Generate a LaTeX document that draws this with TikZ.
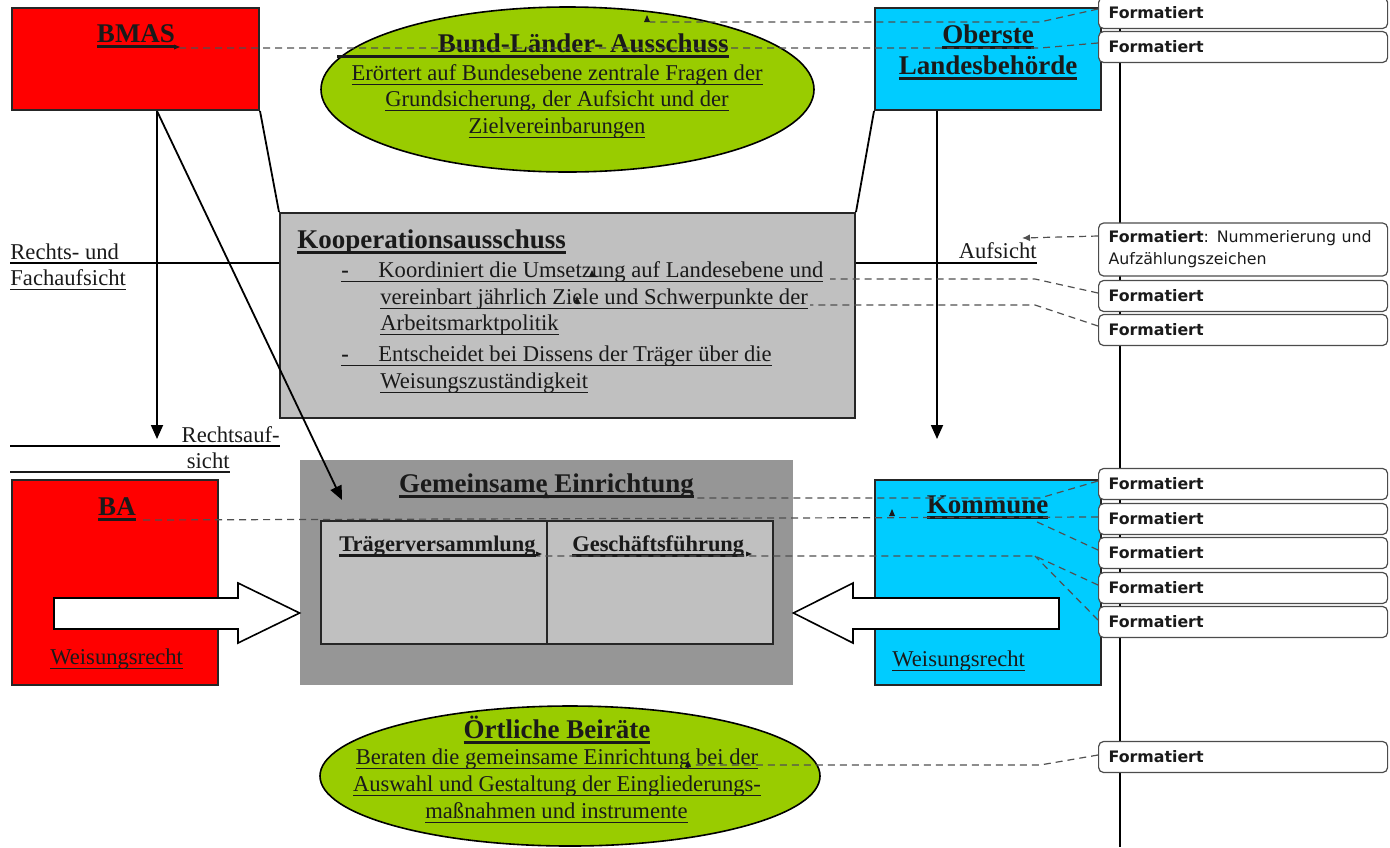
\documentclass[tikz,border=0pt]{standalone}
\usepackage{fontspec}
\setmainfont{Liberation Serif}
\newfontfamily\fmfont{DejaVu Sans}
\usetikzlibrary{arrows.meta,shapes.geometric}
\definecolor{rd}{HTML}{FF0000}
\definecolor{cy}{HTML}{00CCFF}
\definecolor{gn}{HTML}{99CC00}
\definecolor{lg}{HTML}{C0C0C0}
\definecolor{dg}{HTML}{969696}
\definecolor{tx}{HTML}{1A1A1A}
\definecolor{dl}{HTML}{505050}
\newsavebox\ulbox
\newcommand\uline[1]{\sbox\ulbox{#1}\leavevmode\rlap{\usebox\ulbox}\rule[-2.6pt]{\wd\ulbox}{0.7pt}}
\newcommand\tul[1]{\sbox\ulbox{#1}\leavevmode\rlap{\usebox\ulbox}\rule[-3.2pt]{\wd\ulbox}{1.5pt}}
\newcommand\upmark[1]{\fill[tx] (#1) ++(-3,2) -- ++(6,0) -- ++(-3,-7) -- cycle;}
\newcommand\rmark[1]{\fill[tx] (#1) ++(-5,-2.5) -- ++(0,5) -- ++(6,-2.5) -- cycle;}
\begin{document}
\begin{tikzpicture}[x=0.5pt,y=-0.5pt,
  box/.style={draw=black!85, line width=1pt, inner sep=0pt},
  title/.style={font=\fontsize{13.5}{15}\selectfont\bfseries, text=tx, inner sep=0pt, anchor=base},
  stitle/.style={font=\fontsize{11.2}{13}\selectfont\bfseries, text=tx, inner sep=0pt, anchor=base west},
  body/.style={font=\fontsize{11.3}{13}\selectfont, text=tx, inner sep=0pt, anchor=base},
  conn/.style={draw=black, line width=0.9pt},
  thinul/.style={draw=tx, line width=0.7pt},
  arr/.style={conn, -{Triangle[width=6pt,length=7pt]}},
  dsh/.style={draw=dl, line width=0.6pt, dash pattern=on 3.5pt off 2.5pt},
  fmt/.style={draw=black!70, line width=0.6pt, rounded corners=2.5pt, fill=white,
     minimum width=144.5pt, minimum height=15.5pt, text width=134.5pt,
     inner xsep=5pt, inner ysep=0pt, align=left, anchor=west,
     font=\fmfont\fontsize{7.9}{11}\selectfont, text=tx},
  blockarrow/.style={draw=black, line width=0.8pt, fill=white}
]
\useasboundingbox (0,0) rectangle (1390,847);

% right margin line
\coordinate (ml1) at (1120,0);
\coordinate (ml2) at (1120,847);
\draw[conn] (ml1) -- (ml2);

% top ellipse
\node[ellipse, draw, line width=0.8pt, fill=gn, minimum width=246.5pt, minimum height=82.5pt, inner sep=0pt] (bla) at (567.5,89.5) {};
\node[title, anchor=base east] (blat) at (729,52) {Bund-Länder- Ausschuss};
\coordinate (blu) at (337,56);
\draw[draw=tx, line width=1.5pt] (blu) -- ([yshift=-2pt]blat.base east);
\node[body] (bl1) at (557,80) {\uline{Erörtert auf Bundesebene zentrale Fragen der}};
\node[body] (bl2) at (557,106) {\uline{Grundsicherung, der Aufsicht und der}};
\node[body] (bl3) at (557,133) {\uline{Zielvereinbarungen}};

% BMAS
\node[box, fill=rd, minimum width=123.5pt, minimum height=51pt] (bmas) at (135.5,59) {};
\node[title] (bmast) at (136,42) {\tul{BMAS}};

% Oberste Landesbehoerde
\node[box, fill=cy, minimum width=113pt, minimum height=51pt] (olb) at (988,59) {};
\node[title] (olbt1) at (988,43) {\tul{Oberste}};
\node[title] (olbt2) at (988,74) {\tul{Landesbehörde}};

% Kooperationsausschuss
\node[box, fill=lg, minimum width=287.5pt, minimum height=102.5pt] (koop) at (567.5,315.5) {};
\node[title, anchor=base west] (koopt) at (297,248) {\tul{Kooperationsausschuss}};
\node[body, anchor=base west] (k1) at (341,277) {\uline{\makebox[18.5pt][l]{\bfseries -}Koordiniert die Umsetzung auf Landesebene und}};
\node[body, anchor=base west] (k2) at (380,304) {\uline{vereinbart jährlich Ziele und Schwerpunkte der}};
\node[body, anchor=base west] (k3) at (380,330) {\uline{Arbeitsmarktpolitik}};
\node[body, anchor=base west] (k4) at (341,361) {\uline{\makebox[18.5pt][l]{\bfseries -}Entscheidet bei Dissens der Träger über die}};
\node[body, anchor=base west] (k5) at (380,388) {\uline{Weisungszuständigkeit}};

% side labels
\node[body, anchor=base west] (rf1) at (10,259) {Rechts- und};
\node[body, anchor=base west] (rf2) at (10,285) {\uline{Fachaufsicht}};
\coordinate (rl) at (10,263);
\draw[conn] (rl) -- (rl -| koop.west);
\node[body, anchor=base east] (auf) at (1037,258) {Aufsicht};
\coordinate (ar) at (1037,263);
\draw[conn] (ar -| koop.east) -- (ar);
\node[body, anchor=base east] (ra1) at (280,442) {Rechtsauf-};
\coordinate (ra1l) at (10,446);
\coordinate (ra1r) at (280,446);
\draw[conn] (ra1l) -- (ra1r);
\node[body, anchor=base east] (ra2) at (230,468) {sicht};
\coordinate (ra2l) at (10,472);
\coordinate (ra2r) at (230,472);
\draw[thinul] (ra2l) -- (ra2r);

% Gemeinsame Einrichtung
\node[fill=dg, minimum width=246.5pt, minimum height=112.5pt, inner sep=0pt] (ge) at (546.5,572.5) {};
\node[title] (get) at (546.5,492) {\tul{Gemeinsame Einrichtung}};
\node[box, fill=lg, minimum width=113pt, minimum height=61.5pt] (tv) at (434,582.5) {};
\node[box, fill=lg, minimum width=113pt, minimum height=61.5pt] (gf) at (660,582.5) {};
\node[stitle] (tvt) at (339,551) {\tul{Trägerversammlung}};
\node[stitle] (gft) at (572,551) {\tul{Geschäftsführung}};

% BA
\node[box, fill=rd, minimum width=103pt, minimum height=102.5pt] (ba) at (115,582.5) {};
\node[title] (bat) at (117,515) {\tul{BA}};
\node[body, anchor=base west] (baw) at (50,664) {\uline{Weisungsrecht}};

% Kommune
\node[box, fill=cy, minimum width=113pt, minimum height=102.5pt] (kom) at (988,582.5) {};
\node[title] (komt) at (987.5,513) {\tul{Kommune}};
\node[body, anchor=base west] (komw) at (892,666) {\uline{Weisungsrecht}};

% block arrows
\coordinate (y613) at (0,613);
\draw[blockarrow] (54,598) -- (238,598) -- (238,583) -- (ge.west |- y613) -- (238,643) -- (238,629) -- (54,629) -- cycle;
\draw[blockarrow] (1059,598) -- (853,598) -- (853,583) -- (ge.east |- y613) -- (853,643) -- (853,629) -- (1059,629) -- cycle;

% bottom ellipse
\node[ellipse, draw, line width=0.8pt, fill=gn, minimum width=250pt, minimum height=70pt, inner sep=0pt] (orb) at (570,776) {};
\node[title] (orbt) at (557,738) {\tul{Örtliche Beiräte}};
\node[body] (o1) at (557,764) {\uline{Beraten die gemeinsame Einrichtung bei der}};
\node[body] (o2) at (557,791) {\uline{Auswahl und Gestaltung der Eingliederungs-}};
\node[body] (o3) at (556.5,818) {\uline{maßnahmen und instrumente}};

% connectors
\coordinate (x157) at (157,0);
\coordinate (x937) at (937,0);
\coordinate (t1) at (157,439);
\coordinate (t2) at (342,500);
\coordinate (t3) at (937,439);
\draw[conn] (bmas.south east) -- (koop.north west);
\draw[conn] (olb.south west) -- (koop.north east);
\draw[arr] (bmas.south -| x157) -- (t1);
\draw[arr] (bmas.south -| x157) -- (t2);
\draw[arr] (olb.south -| x937) -- (t3);

% comment boxes
\node[fmt] (f1) at (1098,13) {\textbf{Formatiert}};
\node[fmt] (f2) at (1098,47) {\textbf{Formatiert}};
\node[fmt, minimum height=26.5pt] (f3) at (1098,249.5) {\textbf{Formatiert}: Nummerierung und\\Aufzählungszeichen};
\node[fmt] (f4) at (1098,296) {\textbf{Formatiert}};
\node[fmt] (f5) at (1098,330) {\textbf{Formatiert}};
\node[fmt] (f6) at (1098,484) {\textbf{Formatiert}};
\node[fmt] (f7) at (1098,519) {\textbf{Formatiert}};
\node[fmt] (f8) at (1098,553) {\textbf{Formatiert}};
\node[fmt] (f9) at (1098,588) {\textbf{Formatiert}};
\node[fmt] (f10) at (1098,622) {\textbf{Formatiert}};
\node[fmt] (f11) at (1098,757) {\textbf{Formatiert}};

% dashed comment connectors
\coordinate (c1a) at (1040,22);  \coordinate (c1b) at (650,22);
\coordinate (c2a) at (1040,48);  \coordinate (c2b) at (180,48);
\coordinate (c3b) at (1022,238);
\coordinate (c4a) at (1035,279); \coordinate (c4b) at (830,279);
\coordinate (c5a) at (1035,305); \coordinate (c5b) at (810,305);
\coordinate (c6a) at (1040,498); \coordinate (c6b) at (697,498);
\coordinate (c7b) at (140,520);
\coordinate (c8a) at (1035,521);
\coordinate (c9a) at (1035,556); \coordinate (c9b) at (537,556);
\coordinate (c11a) at (1040,765); \coordinate (c11b) at (690,765);
\draw[dsh] ([yshift=2pt]f1.west) -- (c1a) -- (c1b);
\draw[dsh] ([yshift=2pt]f2.west) -- (c2a) -- (c2b);
\draw[dsh, -{Latex[length=4pt,width=3.5pt]}] ([yshift=6.75pt]f3.west) -- (c3b);
\draw[dsh] ([yshift=1.5pt]f4.west) -- (c4a) -- (c4b);
\draw[dsh] ([yshift=2pt]f5.west) -- (c5a) -- (c5b);
\draw[dsh] ([yshift=1.5pt]f6.west) -- (c6a) -- (c6b);
\draw[dsh] ([yshift=1pt]f7.west) -- (c7b);
\draw[dsh] ([yshift=1.5pt]f8.west) -- (c8a);
\draw[dsh] ([yshift=1.5pt]f9.west) -- (c9a) -- (c9b);
\draw[dsh] ([yshift=1pt]f10.west) -- (c9a);
\draw[dsh] ([yshift=1pt]f11.west) -- (c11a) -- (c11b);

% anchor markers
\upmark{647,20}
\rmark{179,47}
\upmark{592,275}
\upmark{577,301}
\upmark{546,496}
\rmark{541,554}
\rmark{751,554}
\upmark{892,514}
\upmark{688,765}
\end{tikzpicture}
\end{document}
